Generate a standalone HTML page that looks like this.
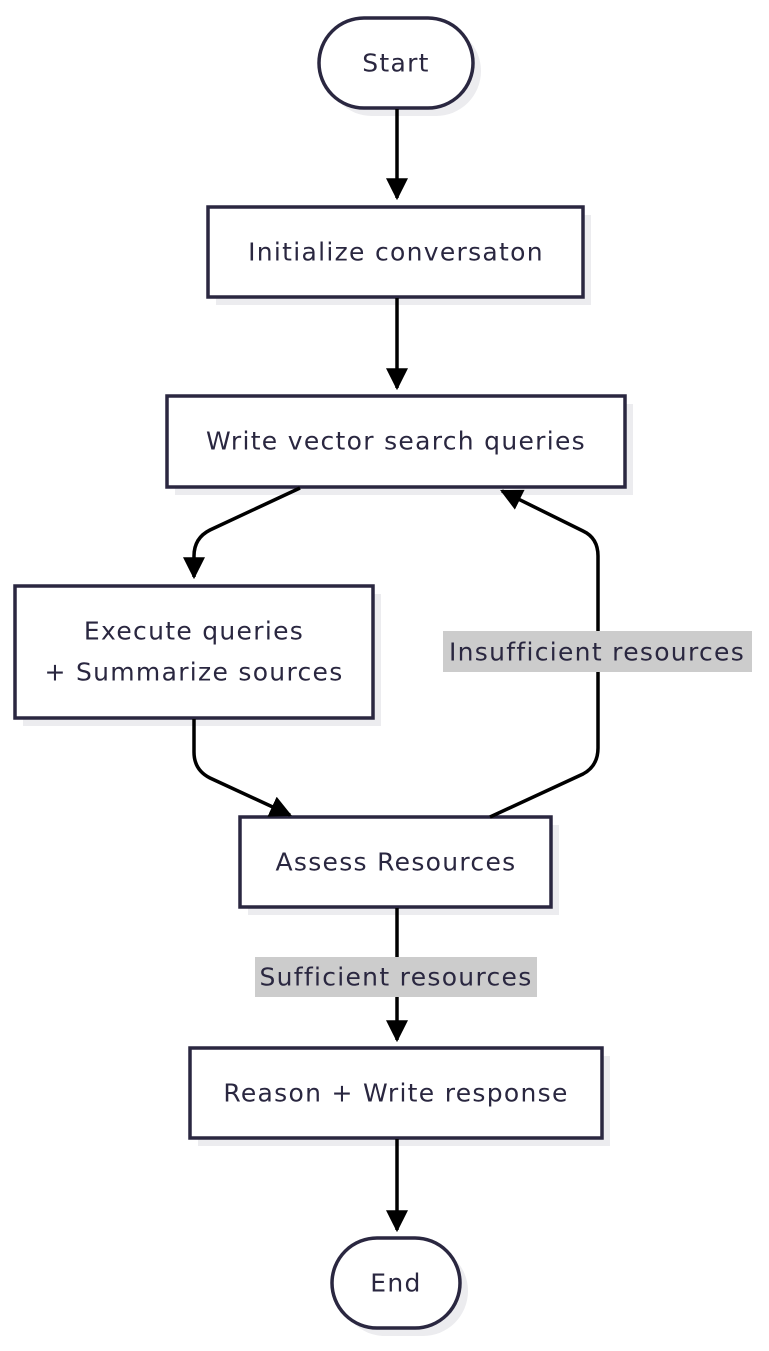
<!DOCTYPE html>
<html><head><meta charset="utf-8"><style>
html,body{margin:0;padding:0;background:#fff;}
svg text{font-family:"DejaVu Sans","Liberation Sans",sans-serif;font-size:25px;letter-spacing:1.3px;fill:#2a2740;text-anchor:middle;dominant-baseline:central;}
</style></head><body>
<svg width="769" height="1346" viewBox="0 0 769 1346" xmlns="http://www.w3.org/2000/svg">
<defs>
<marker id="a" viewBox="0 0 10 10" refX="9" refY="5" markerWidth="22" markerHeight="22" markerUnits="userSpaceOnUse" orient="auto">
<path d="M0,0 L10,5 L0,10 z" fill="#000"/></marker>
</defs>
<g fill="#ececef">
<rect x="327" y="26" width="154" height="90" rx="45"/>
<rect x="216" y="215" width="375" height="90"/>
<rect x="175" y="404" width="458" height="91"/>
<rect x="23" y="594" width="358" height="132"/>
<rect x="248" y="825" width="311" height="90"/>
<rect x="198" y="1056" width="412" height="90"/>
<rect x="340" y="1246" width="128" height="90" rx="45"/>
</g>
<g fill="#fff" stroke="#2a2740" stroke-width="3.5">
<rect x="319" y="18" width="154" height="90" rx="45"/>
<rect x="208" y="207" width="375" height="90"/>
<rect x="167" y="396" width="458" height="91"/>
<rect x="15" y="586" width="358" height="132"/>
<rect x="240" y="817" width="311" height="90"/>
<rect x="190" y="1048" width="412" height="90"/>
<rect x="332" y="1238" width="128" height="90" rx="45"/>
</g>
<g fill="none" stroke="#000" stroke-width="3.5" marker-end="url(#a)">
<path d="M397,109 L397,198"/>
<path d="M397,298 L397,388"/>
<path d="M300,488 L210,530 Q194,538 194,556 L194,577"/>
<path d="M194,719 L194,752 Q194,770 210,778 L290,815"/>
<path d="M490,817 L583,774 Q598,766 598,748 L598,556 Q598,538 583,531 L502,491"/>
<path d="M397,908 L397,1040"/>
<path d="M397,1139 L397,1230"/>
</g>
<rect x="443" y="631" width="309" height="41" fill="#cccccc"/>
<rect x="255" y="957" width="282" height="40" fill="#cccccc"/>
<text x="396" y="63">Start</text>
<text x="396" y="252">Initialize conversaton</text>
<text x="396" y="441">Write vector search queries</text>
<text x="194" y="631">Execute queries</text>
<text x="194" y="672">+ Summarize sources</text>
<text x="396" y="862">Assess Resources</text>
<text x="396" y="1093">Reason + Write response</text>
<text x="396" y="1283">End</text>
<text x="597" y="652">Insufficient resources</text>
<text x="396" y="977">Sufficient resources</text>
</svg>
</body></html>
